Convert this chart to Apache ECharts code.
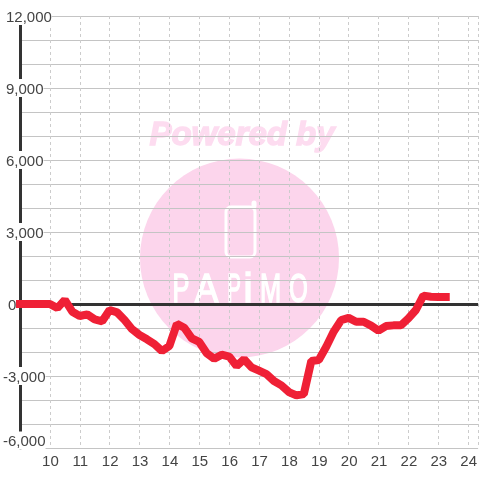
<!DOCTYPE html>
<html><head><meta charset="utf-8">
<style>html,body{margin:0;padding:0;background:#fff}#c{width:480px;height:480px}</style>
<script src="https://cdn.jsdelivr.net/npm/echarts@6/dist/echarts.min.js"></script>
</head><body><div id="c"></div>
<script>
const hours = [9,9.25,9.5,9.75,10,10.25,10.5,10.75,11,11.25,11.5,11.75,12,12.25,12.5,12.75,13,13.25,13.5,13.75,14,14.25,14.5,14.75,15,15.25,15.5,15.75,16,16.25,16.5,16.75,17,17.25,17.5,17.75,18,18.25,18.5,18.75,19,19.25,19.5,19.75,20,20.25,20.5,20.75,21,21.25,21.5,21.75,22,22.25,22.5,22.75,23,23.25];
const values = [0,0,0,0,0,-170,170,-320,-500,-430,-640,-720,-250,-350,-670,-1050,-1290,-1470,-1670,-1960,-1750,-830,-990,-1430,-1580,-2050,-2280,-2110,-2190,-2580,-2300,-2640,-2780,-2920,-3210,-3390,-3670,-3810,-3750,-2375,-2330,-1780,-1150,-670,-580,-740,-740,-900,-1110,-920,-890,-890,-600,-250,350,300,290,290];
const yLabelEvery = 3000;
const logoLetters = ['P','A','P','i','M','O'];
const logoX = [181,206.5,234,248,270.5,298.5];
const logoScale = [0.62,0.85,0.5,1,0.62,0.58];

const fmt = v => {
  if (v % yLabelEvery !== 0) return '';
  const s = Math.abs(v).toLocaleString('en-US');
  if (v < 0) return '{n|-' + s + '}';
  if (v === 0) return '{z|0}';
  return '{p|' + s + '}';
};
const base = {color:'#444',fontSize:15,fontFamily:'Liberation Sans',backgroundColor:'#fff',lineHeight:15};
const pink = '#fcd5ec';
const logo = logoLetters.map((t,i)=>({
  type:'text',z:-1,x:logoX[i],y:291,scaleX:logoScale[i],
  style:{text:t,fill:'#fff',stroke:'#fff',lineWidth:1.6,font:'41px "Liberation Sans"',textAlign:'center',textVerticalAlign:'middle'}
}));
const chart = echarts.init(document.getElementById('c'),null,{renderer:'canvas'});
chart.setOption({
  animation:false,
  backgroundColor:'#fff',
  grid:{left:20,right:0,top:16,bottom:32,containLabel:false},
  graphic:{elements:[
    {type:'circle',z:-2,shape:{cx:239.5,cy:258,r:99.5},style:{fill:pink}},
    {type:'text',z:-2,x:242,y:136,style:{text:'Powered by',fill:'#fddcf0',stroke:'#fddcf0',lineWidth:1.4,font:'italic bold 33px "Liberation Sans"',textAlign:'center',textVerticalAlign:'middle'}},
    {type:'rect',z:-1,shape:{x:226,y:207,width:29,height:50,r:5},style:{fill:'none',stroke:'#fff',lineWidth:3}},
    {type:'rect',z:-1,shape:{x:251.5,y:200.5,width:5,height:8,r:2.5},style:{fill:'#fff'}},
    ...logo
  ]},
  xAxis:{type:'value',min:9,max:24.3333,interval:1,
    axisLine:{show:false},axisTick:{show:false},
    axisLabel:{showMinLabel:false,showMaxLabel:false,color:'#444',fontSize:15,fontFamily:'Liberation Sans',margin:6,
      padding:[0,0,0,1]},
    splitLine:{show:true,lineStyle:{color:'#ccc',type:[3,3],width:1}}},
  yAxis:{type:'value',min:-6000,max:12000,interval:1000,
    axisLine:{show:true,onZero:false,lineStyle:{color:'#333',width:3}},
    axisTick:{show:false},
    axisLabel:{formatter:fmt,align:'left',margin:17,verticalAlignMinLabel:'bottom',hideOverlap:false,
      rich:{n:{...base,padding:[3,0,0,0]},p:{...base,padding:[3,0,0,3]},z:{...base,padding:[3,0,0,5],backgroundColor:'transparent'}}},
    splitLine:{show:true,lineStyle:{color:'#c4c4c4',width:1}}},
  series:[
    {type:'line',z:1,data:[],silent:true,
      markLine:{z:1,silent:true,symbol:'none',label:{show:false},lineStyle:{color:'#333',width:3,type:'solid'},data:[{yAxis:0}]}},
    {type:'line',z:3,data:hours.map((h,i)=>[h,values[i]]),showSymbol:false,smooth:false,
      lineStyle:{color:'#ef2036',width:8,cap:'square',join:'bevel'}}
  ]
});
</script></body></html>
